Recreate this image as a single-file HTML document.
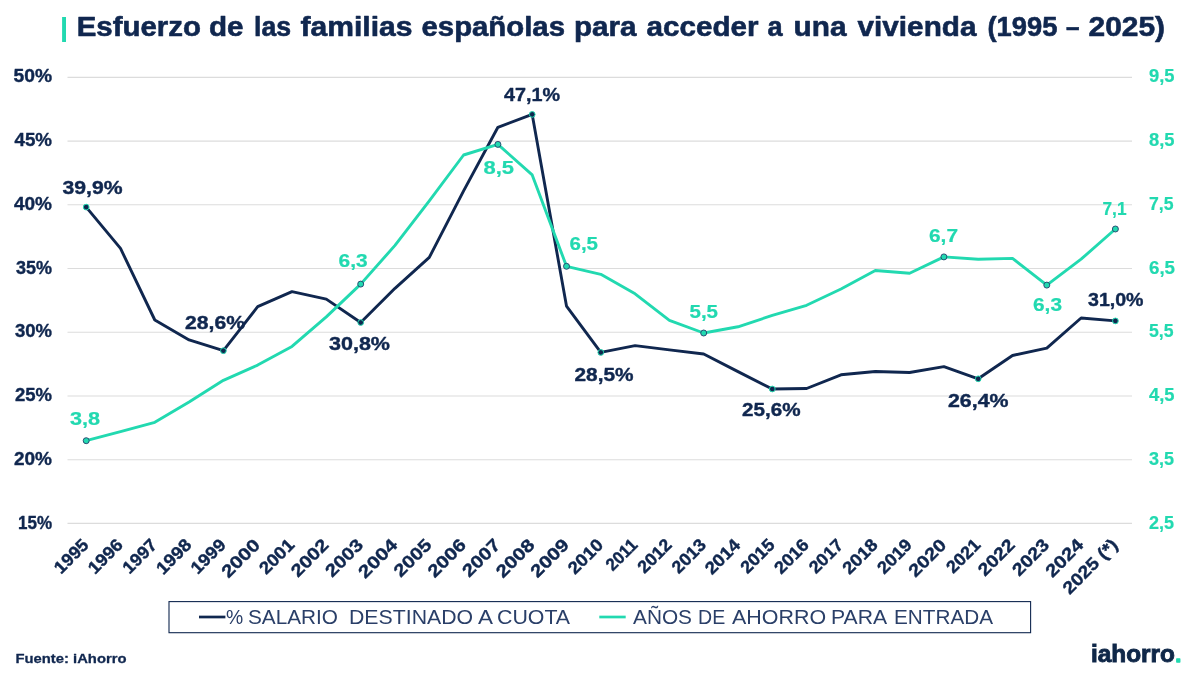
<!DOCTYPE html>
<html lang="es"><head><meta charset="utf-8"><title>Esfuerzo de las familias españolas para acceder a una vivienda</title>
<style>html,body{margin:0;padding:0;background:#fff;}body{width:1200px;height:675px;overflow:hidden;}svg{display:block;}text{font-family:"Liberation Sans", "DejaVu Sans", sans-serif;}</style></head><body>
<svg width="1200" height="675" viewBox="0 0 1200 675">
<rect width="1200" height="675" fill="#ffffff"/>
<rect x="62.1" y="17" width="3.9" height="25" fill="#22d9b0"/>
<text x="76.7" y="36.3" font-size="27.8" font-weight="bold" fill="#10274f" text-anchor="start" textLength="124.3" lengthAdjust="spacingAndGlyphs" stroke="#10274f" stroke-width="0.61" stroke-linejoin="round">Esfuerzo</text>
<text x="209.0" y="36.3" font-size="27.8" font-weight="bold" fill="#10274f" text-anchor="start" textLength="34.6" lengthAdjust="spacingAndGlyphs" stroke="#10274f" stroke-width="0.61" stroke-linejoin="round">de</text>
<text x="254.0" y="36.3" font-size="27.8" font-weight="bold" fill="#10274f" text-anchor="start" textLength="37.1" lengthAdjust="spacingAndGlyphs" stroke="#10274f" stroke-width="0.61" stroke-linejoin="round">las</text>
<text x="300.5" y="36.3" font-size="27.8" font-weight="bold" fill="#10274f" text-anchor="start" textLength="112.0" lengthAdjust="spacingAndGlyphs" stroke="#10274f" stroke-width="0.61" stroke-linejoin="round">familias</text>
<text x="421.5" y="36.3" font-size="27.8" font-weight="bold" fill="#10274f" text-anchor="start" textLength="143.5" lengthAdjust="spacingAndGlyphs" stroke="#10274f" stroke-width="0.61" stroke-linejoin="round">españolas</text>
<text x="574.0" y="36.3" font-size="27.8" font-weight="bold" fill="#10274f" text-anchor="start" textLength="62.6" lengthAdjust="spacingAndGlyphs" stroke="#10274f" stroke-width="0.61" stroke-linejoin="round">para</text>
<text x="646.5" y="36.3" font-size="27.8" font-weight="bold" fill="#10274f" text-anchor="start" textLength="112.0" lengthAdjust="spacingAndGlyphs" stroke="#10274f" stroke-width="0.61" stroke-linejoin="round">acceder</text>
<text x="767.5" y="36.3" font-size="27.8" font-weight="bold" fill="#10274f" text-anchor="start" textLength="15.1" lengthAdjust="spacingAndGlyphs" stroke="#10274f" stroke-width="0.61" stroke-linejoin="round">a</text>
<text x="793.5" y="36.3" font-size="27.8" font-weight="bold" fill="#10274f" text-anchor="start" textLength="53.0" lengthAdjust="spacingAndGlyphs" stroke="#10274f" stroke-width="0.61" stroke-linejoin="round">una</text>
<text x="857.5" y="36.3" font-size="27.8" font-weight="bold" fill="#10274f" text-anchor="start" textLength="119.0" lengthAdjust="spacingAndGlyphs" stroke="#10274f" stroke-width="0.61" stroke-linejoin="round">vivienda</text>
<text x="987.5" y="36.3" font-size="27.8" font-weight="bold" fill="#10274f" text-anchor="start" textLength="70.0" lengthAdjust="spacingAndGlyphs" stroke="#10274f" stroke-width="0.61" stroke-linejoin="round">(1995</text>
<text x="1066.0" y="36.3" font-size="27.8" font-weight="bold" fill="#10274f" text-anchor="start" textLength="13.5" lengthAdjust="spacingAndGlyphs" stroke="#10274f" stroke-width="0.61" stroke-linejoin="round">–</text>
<text x="1088.5" y="36.3" font-size="27.8" font-weight="bold" fill="#10274f" text-anchor="start" textLength="76.5" lengthAdjust="spacingAndGlyphs" stroke="#10274f" stroke-width="0.61" stroke-linejoin="round">2025)</text>
<line x1="67.5" x2="1132" y1="77.4" y2="77.4" stroke="#dcdcdc" stroke-width="1.1"/>
<line x1="67.5" x2="1132" y1="141.1" y2="141.1" stroke="#dcdcdc" stroke-width="1.1"/>
<line x1="67.5" x2="1132" y1="204.8" y2="204.8" stroke="#dcdcdc" stroke-width="1.1"/>
<line x1="67.5" x2="1132" y1="268.5" y2="268.5" stroke="#dcdcdc" stroke-width="1.1"/>
<line x1="67.5" x2="1132" y1="332.2" y2="332.2" stroke="#dcdcdc" stroke-width="1.1"/>
<line x1="67.5" x2="1132" y1="396.0" y2="396.0" stroke="#dcdcdc" stroke-width="1.1"/>
<line x1="67.5" x2="1132" y1="459.7" y2="459.7" stroke="#dcdcdc" stroke-width="1.1"/>
<line x1="67.5" x2="1132" y1="523.4" y2="523.4" stroke="#dcdcdc" stroke-width="1.1"/>
<text x="13.5" y="82.2" font-size="17.5" font-weight="bold" fill="#10274f" text-anchor="start" textLength="38.5" lengthAdjust="spacingAndGlyphs" stroke="#10274f" stroke-width="0.38" stroke-linejoin="round">50%</text>
<text x="14.5" y="145.9" font-size="17.5" font-weight="bold" fill="#10274f" text-anchor="start" textLength="37.5" lengthAdjust="spacingAndGlyphs" stroke="#10274f" stroke-width="0.38" stroke-linejoin="round">45%</text>
<text x="14.0" y="209.7" font-size="17.5" font-weight="bold" fill="#10274f" text-anchor="start" textLength="38.0" lengthAdjust="spacingAndGlyphs" stroke="#10274f" stroke-width="0.38" stroke-linejoin="round">40%</text>
<text x="16.0" y="273.5" font-size="17.5" font-weight="bold" fill="#10274f" text-anchor="start" textLength="36.0" lengthAdjust="spacingAndGlyphs" stroke="#10274f" stroke-width="0.38" stroke-linejoin="round">35%</text>
<text x="15.0" y="337.2" font-size="17.5" font-weight="bold" fill="#10274f" text-anchor="start" textLength="37.0" lengthAdjust="spacingAndGlyphs" stroke="#10274f" stroke-width="0.38" stroke-linejoin="round">30%</text>
<text x="15.0" y="401.0" font-size="17.5" font-weight="bold" fill="#10274f" text-anchor="start" textLength="37.0" lengthAdjust="spacingAndGlyphs" stroke="#10274f" stroke-width="0.38" stroke-linejoin="round">25%</text>
<text x="14.0" y="464.8" font-size="17.5" font-weight="bold" fill="#10274f" text-anchor="start" textLength="38.0" lengthAdjust="spacingAndGlyphs" stroke="#10274f" stroke-width="0.38" stroke-linejoin="round">20%</text>
<text x="18.0" y="528.6" font-size="17.5" font-weight="bold" fill="#10274f" text-anchor="start" textLength="34.0" lengthAdjust="spacingAndGlyphs" stroke="#10274f" stroke-width="0.38" stroke-linejoin="round">15%</text>
<text x="1149.0" y="82.1" font-size="17.5" font-weight="bold" fill="#22d9b0" text-anchor="start" textLength="25.5" lengthAdjust="spacingAndGlyphs" stroke="#22d9b0" stroke-width="0.21" stroke-linejoin="round">9,5</text>
<text x="1149.0" y="145.9" font-size="17.5" font-weight="bold" fill="#22d9b0" text-anchor="start" textLength="25.5" lengthAdjust="spacingAndGlyphs" stroke="#22d9b0" stroke-width="0.21" stroke-linejoin="round">8,5</text>
<text x="1149.0" y="209.7" font-size="17.5" font-weight="bold" fill="#22d9b0" text-anchor="start" textLength="24.5" lengthAdjust="spacingAndGlyphs" stroke="#22d9b0" stroke-width="0.21" stroke-linejoin="round">7,5</text>
<text x="1149.0" y="273.5" font-size="17.5" font-weight="bold" fill="#22d9b0" text-anchor="start" textLength="26.0" lengthAdjust="spacingAndGlyphs" stroke="#22d9b0" stroke-width="0.21" stroke-linejoin="round">6,5</text>
<text x="1149.0" y="337.3" font-size="17.5" font-weight="bold" fill="#22d9b0" text-anchor="start" textLength="24.5" lengthAdjust="spacingAndGlyphs" stroke="#22d9b0" stroke-width="0.21" stroke-linejoin="round">5,5</text>
<text x="1149.0" y="401.1" font-size="17.5" font-weight="bold" fill="#22d9b0" text-anchor="start" textLength="25.5" lengthAdjust="spacingAndGlyphs" stroke="#22d9b0" stroke-width="0.21" stroke-linejoin="round">4,5</text>
<text x="1149.0" y="464.9" font-size="17.5" font-weight="bold" fill="#22d9b0" text-anchor="start" textLength="25.0" lengthAdjust="spacingAndGlyphs" stroke="#22d9b0" stroke-width="0.21" stroke-linejoin="round">3,5</text>
<text x="1149.0" y="528.7" font-size="17.5" font-weight="bold" fill="#22d9b0" text-anchor="start" textLength="25.0" lengthAdjust="spacingAndGlyphs" stroke="#22d9b0" stroke-width="0.21" stroke-linejoin="round">2,5</text>
<polyline points="86.2,207.1 120.5,248.4 154.8,320.0 189.1,339.9 223.4,350.7 257.7,306.7 292.0,291.6 326.3,299.1 360.7,322.5 395.0,288.3 429.3,257.4 463.6,190.8 497.9,127.3 532.2,114.4 566.5,306.1 600.8,352.4 635.1,345.6 669.4,349.9 703.7,354.0 738.0,371.6 772.3,389.0 806.6,388.5 841.0,374.8 875.3,371.5 909.6,372.5 943.9,366.6 978.2,378.8 1012.5,355.5 1046.8,348.2 1081.1,318.0 1115.4,320.9" fill="none" stroke="#10274f" stroke-width="2.9" stroke-linejoin="round" stroke-linecap="round"/>
<polyline points="86.2,440.7 120.5,431.6 154.8,422.3 189.1,401.9 223.4,380.3 257.7,365.1 292.0,346.4 326.3,316.9 360.7,284.1 395.0,245.4 429.3,200.8 463.6,155.0 497.9,144.4 532.2,174.9 566.5,266.3 600.8,274.3 635.1,293.8 669.4,320.3 703.7,333.0 738.0,326.8 772.3,315.4 806.6,305.3 841.0,289.0 875.3,270.5 909.6,273.3 943.9,256.9 978.2,259.2 1012.5,258.4 1046.8,285.1 1081.1,259.2 1115.4,229.0" fill="none" stroke="#22d9b0" stroke-width="2.9" stroke-linejoin="round" stroke-linecap="round"/>
<circle cx="86.2" cy="207.1" r="2.85" fill="#10274f" stroke="#22d9b0" stroke-width="1.0"/>
<circle cx="223.4" cy="350.7" r="2.85" fill="#10274f" stroke="#22d9b0" stroke-width="1.0"/>
<circle cx="360.7" cy="322.5" r="2.85" fill="#10274f" stroke="#22d9b0" stroke-width="1.0"/>
<circle cx="532.2" cy="114.4" r="2.85" fill="#10274f" stroke="#22d9b0" stroke-width="1.0"/>
<circle cx="600.8" cy="352.4" r="2.85" fill="#10274f" stroke="#22d9b0" stroke-width="1.0"/>
<circle cx="772.3" cy="389.0" r="2.85" fill="#10274f" stroke="#22d9b0" stroke-width="1.0"/>
<circle cx="978.2" cy="378.8" r="2.85" fill="#10274f" stroke="#22d9b0" stroke-width="1.0"/>
<circle cx="1115.4" cy="320.9" r="2.85" fill="#10274f" stroke="#22d9b0" stroke-width="1.0"/>
<circle cx="86.2" cy="440.7" r="3.0" fill="#22d9b0" stroke="#24406b" stroke-width="0.9"/>
<circle cx="360.7" cy="284.1" r="3.0" fill="#22d9b0" stroke="#24406b" stroke-width="0.9"/>
<circle cx="497.9" cy="144.4" r="3.0" fill="#22d9b0" stroke="#24406b" stroke-width="0.9"/>
<circle cx="566.5" cy="266.3" r="3.0" fill="#22d9b0" stroke="#24406b" stroke-width="0.9"/>
<circle cx="703.7" cy="333.0" r="3.0" fill="#22d9b0" stroke="#24406b" stroke-width="0.9"/>
<circle cx="943.9" cy="256.9" r="3.0" fill="#22d9b0" stroke="#24406b" stroke-width="0.9"/>
<circle cx="1046.8" cy="285.1" r="3.0" fill="#22d9b0" stroke="#24406b" stroke-width="0.9"/>
<circle cx="1115.4" cy="229.0" r="3.0" fill="#22d9b0" stroke="#24406b" stroke-width="0.9"/>
<text x="62.5" y="193.5" font-size="19.0" font-weight="bold" fill="#10274f" text-anchor="start" textLength="60.0" lengthAdjust="spacingAndGlyphs" stroke="#10274f" stroke-width="0.42" stroke-linejoin="round">39,9%</text>
<text x="185.0" y="328.8" font-size="19.0" font-weight="bold" fill="#10274f" text-anchor="start" textLength="60.0" lengthAdjust="spacingAndGlyphs" stroke="#10274f" stroke-width="0.42" stroke-linejoin="round">28,6%</text>
<text x="329.0" y="349.9" font-size="19.0" font-weight="bold" fill="#10274f" text-anchor="start" textLength="61.0" lengthAdjust="spacingAndGlyphs" stroke="#10274f" stroke-width="0.42" stroke-linejoin="round">30,8%</text>
<text x="504.0" y="100.8" font-size="19.0" font-weight="bold" fill="#10274f" text-anchor="start" textLength="56.0" lengthAdjust="spacingAndGlyphs" stroke="#10274f" stroke-width="0.42" stroke-linejoin="round">47,1%</text>
<text x="574.5" y="381.2" font-size="19.0" font-weight="bold" fill="#10274f" text-anchor="start" textLength="59.0" lengthAdjust="spacingAndGlyphs" stroke="#10274f" stroke-width="0.42" stroke-linejoin="round">28,5%</text>
<text x="742.0" y="415.7" font-size="19.0" font-weight="bold" fill="#10274f" text-anchor="start" textLength="58.5" lengthAdjust="spacingAndGlyphs" stroke="#10274f" stroke-width="0.42" stroke-linejoin="round">25,6%</text>
<text x="948.0" y="407.3" font-size="19.0" font-weight="bold" fill="#10274f" text-anchor="start" textLength="60.5" lengthAdjust="spacingAndGlyphs" stroke="#10274f" stroke-width="0.42" stroke-linejoin="round">26,4%</text>
<text x="1088.0" y="306.0" font-size="19.0" font-weight="bold" fill="#10274f" text-anchor="start" textLength="55.5" lengthAdjust="spacingAndGlyphs" stroke="#10274f" stroke-width="0.42" stroke-linejoin="round">31,0%</text>
<text x="70.0" y="424.8" font-size="19.0" font-weight="bold" fill="#22d9b0" text-anchor="start" textLength="30.1" lengthAdjust="spacingAndGlyphs" stroke="#22d9b0" stroke-width="0.23" stroke-linejoin="round">3,8</text>
<text x="338.5" y="267.0" font-size="19.0" font-weight="bold" fill="#22d9b0" text-anchor="start" textLength="29.1" lengthAdjust="spacingAndGlyphs" stroke="#22d9b0" stroke-width="0.23" stroke-linejoin="round">6,3</text>
<text x="483.5" y="173.9" font-size="19.0" font-weight="bold" fill="#22d9b0" text-anchor="start" textLength="30.5" lengthAdjust="spacingAndGlyphs" stroke="#22d9b0" stroke-width="0.23" stroke-linejoin="round">8,5</text>
<text x="569.5" y="250.2" font-size="19.0" font-weight="bold" fill="#22d9b0" text-anchor="start" textLength="28.5" lengthAdjust="spacingAndGlyphs" stroke="#22d9b0" stroke-width="0.23" stroke-linejoin="round">6,5</text>
<text x="689.5" y="317.9" font-size="19.0" font-weight="bold" fill="#22d9b0" text-anchor="start" textLength="28.5" lengthAdjust="spacingAndGlyphs" stroke="#22d9b0" stroke-width="0.23" stroke-linejoin="round">5,5</text>
<text x="929.0" y="242.3" font-size="19.0" font-weight="bold" fill="#22d9b0" text-anchor="start" textLength="29.0" lengthAdjust="spacingAndGlyphs" stroke="#22d9b0" stroke-width="0.23" stroke-linejoin="round">6,7</text>
<text x="1033.0" y="311.0" font-size="19.0" font-weight="bold" fill="#22d9b0" text-anchor="start" textLength="29.0" lengthAdjust="spacingAndGlyphs" stroke="#22d9b0" stroke-width="0.23" stroke-linejoin="round">6,3</text>
<text x="1102.5" y="215.3" font-size="19.0" font-weight="bold" fill="#22d9b0" text-anchor="start" textLength="24.0" lengthAdjust="spacingAndGlyphs" stroke="#22d9b0" stroke-width="0.23" stroke-linejoin="round">7,1</text>
<text transform="translate(89.7,546.0) rotate(-45)" x="0" y="0" font-size="17.5" font-weight="bold" stroke="#13294f" stroke-width="0.4" fill="#10274f" text-anchor="end" textLength="40.5" lengthAdjust="spacingAndGlyphs">1995</text>
<text transform="translate(124.0,546.0) rotate(-45)" x="0" y="0" font-size="17.5" font-weight="bold" stroke="#13294f" stroke-width="0.4" fill="#10274f" text-anchor="end" textLength="41.1" lengthAdjust="spacingAndGlyphs">1996</text>
<text transform="translate(158.3,546.0) rotate(-45)" x="0" y="0" font-size="17.5" font-weight="bold" stroke="#13294f" stroke-width="0.4" fill="#10274f" text-anchor="end" textLength="40.6" lengthAdjust="spacingAndGlyphs">1997</text>
<text transform="translate(192.6,546.0) rotate(-45)" x="0" y="0" font-size="17.5" font-weight="bold" stroke="#13294f" stroke-width="0.4" fill="#10274f" text-anchor="end" textLength="41.6" lengthAdjust="spacingAndGlyphs">1998</text>
<text transform="translate(226.9,546.0) rotate(-45)" x="0" y="0" font-size="17.5" font-weight="bold" stroke="#13294f" stroke-width="0.4" fill="#10274f" text-anchor="end" textLength="41.1" lengthAdjust="spacingAndGlyphs">1999</text>
<text transform="translate(261.2,546.0) rotate(-45)" x="0" y="0" font-size="17.5" font-weight="bold" stroke="#13294f" stroke-width="0.4" fill="#10274f" text-anchor="end" textLength="46.4" lengthAdjust="spacingAndGlyphs">2000</text>
<text transform="translate(295.5,546.0) rotate(-45)" x="0" y="0" font-size="17.5" font-weight="bold" stroke="#13294f" stroke-width="0.4" fill="#10274f" text-anchor="end" textLength="41.4" lengthAdjust="spacingAndGlyphs">2001</text>
<text transform="translate(329.8,546.0) rotate(-45)" x="0" y="0" font-size="17.5" font-weight="bold" stroke="#13294f" stroke-width="0.4" fill="#10274f" text-anchor="end" textLength="45.1" lengthAdjust="spacingAndGlyphs">2002</text>
<text transform="translate(364.2,546.0) rotate(-45)" x="0" y="0" font-size="17.5" font-weight="bold" stroke="#13294f" stroke-width="0.4" fill="#10274f" text-anchor="end" textLength="45.2" lengthAdjust="spacingAndGlyphs">2003</text>
<text transform="translate(398.5,546.0) rotate(-45)" x="0" y="0" font-size="17.5" font-weight="bold" stroke="#13294f" stroke-width="0.4" fill="#10274f" text-anchor="end" textLength="46.9" lengthAdjust="spacingAndGlyphs">2004</text>
<text transform="translate(432.8,546.0) rotate(-45)" x="0" y="0" font-size="17.5" font-weight="bold" stroke="#13294f" stroke-width="0.4" fill="#10274f" text-anchor="end" textLength="45.2" lengthAdjust="spacingAndGlyphs">2005</text>
<text transform="translate(467.1,546.0) rotate(-45)" x="0" y="0" font-size="17.5" font-weight="bold" stroke="#13294f" stroke-width="0.4" fill="#10274f" text-anchor="end" textLength="45.9" lengthAdjust="spacingAndGlyphs">2006</text>
<text transform="translate(501.4,546.0) rotate(-45)" x="0" y="0" font-size="17.5" font-weight="bold" stroke="#13294f" stroke-width="0.4" fill="#10274f" text-anchor="end" textLength="45.4" lengthAdjust="spacingAndGlyphs">2007</text>
<text transform="translate(535.7,546.0) rotate(-45)" x="0" y="0" font-size="17.5" font-weight="bold" stroke="#13294f" stroke-width="0.4" fill="#10274f" text-anchor="end" textLength="46.4" lengthAdjust="spacingAndGlyphs">2008</text>
<text transform="translate(570.0,546.0) rotate(-45)" x="0" y="0" font-size="17.5" font-weight="bold" stroke="#13294f" stroke-width="0.4" fill="#10274f" text-anchor="end" textLength="45.9" lengthAdjust="spacingAndGlyphs">2009</text>
<text transform="translate(604.3,546.0) rotate(-45)" x="0" y="0" font-size="17.5" font-weight="bold" stroke="#13294f" stroke-width="0.4" fill="#10274f" text-anchor="end" textLength="41.4" lengthAdjust="spacingAndGlyphs">2010</text>
<text transform="translate(638.6,546.0) rotate(-45)" x="0" y="0" font-size="17.5" font-weight="bold" stroke="#13294f" stroke-width="0.4" fill="#10274f" text-anchor="end" textLength="36.5" lengthAdjust="spacingAndGlyphs">2011</text>
<text transform="translate(672.9,546.0) rotate(-45)" x="0" y="0" font-size="17.5" font-weight="bold" stroke="#13294f" stroke-width="0.4" fill="#10274f" text-anchor="end" textLength="40.1" lengthAdjust="spacingAndGlyphs">2012</text>
<text transform="translate(707.2,546.0) rotate(-45)" x="0" y="0" font-size="17.5" font-weight="bold" stroke="#13294f" stroke-width="0.4" fill="#10274f" text-anchor="end" textLength="40.2" lengthAdjust="spacingAndGlyphs">2013</text>
<text transform="translate(741.5,546.0) rotate(-45)" x="0" y="0" font-size="17.5" font-weight="bold" stroke="#13294f" stroke-width="0.4" fill="#10274f" text-anchor="end" textLength="41.9" lengthAdjust="spacingAndGlyphs">2014</text>
<text transform="translate(775.8,546.0) rotate(-45)" x="0" y="0" font-size="17.5" font-weight="bold" stroke="#13294f" stroke-width="0.4" fill="#10274f" text-anchor="end" textLength="40.2" lengthAdjust="spacingAndGlyphs">2015</text>
<text transform="translate(810.1,546.0) rotate(-45)" x="0" y="0" font-size="17.5" font-weight="bold" stroke="#13294f" stroke-width="0.4" fill="#10274f" text-anchor="end" textLength="40.9" lengthAdjust="spacingAndGlyphs">2016</text>
<text transform="translate(844.5,546.0) rotate(-45)" x="0" y="0" font-size="17.5" font-weight="bold" stroke="#13294f" stroke-width="0.4" fill="#10274f" text-anchor="end" textLength="40.4" lengthAdjust="spacingAndGlyphs">2017</text>
<text transform="translate(878.8,546.0) rotate(-45)" x="0" y="0" font-size="17.5" font-weight="bold" stroke="#13294f" stroke-width="0.4" fill="#10274f" text-anchor="end" textLength="41.4" lengthAdjust="spacingAndGlyphs">2018</text>
<text transform="translate(913.1,546.0) rotate(-45)" x="0" y="0" font-size="17.5" font-weight="bold" stroke="#13294f" stroke-width="0.4" fill="#10274f" text-anchor="end" textLength="40.9" lengthAdjust="spacingAndGlyphs">2019</text>
<text transform="translate(947.4,546.0) rotate(-45)" x="0" y="0" font-size="17.5" font-weight="bold" stroke="#13294f" stroke-width="0.4" fill="#10274f" text-anchor="end" textLength="45.1" lengthAdjust="spacingAndGlyphs">2020</text>
<text transform="translate(981.7,546.0) rotate(-45)" x="0" y="0" font-size="17.5" font-weight="bold" stroke="#13294f" stroke-width="0.4" fill="#10274f" text-anchor="end" textLength="40.1" lengthAdjust="spacingAndGlyphs">2021</text>
<text transform="translate(1016.0,546.0) rotate(-45)" x="0" y="0" font-size="17.5" font-weight="bold" stroke="#13294f" stroke-width="0.4" fill="#10274f" text-anchor="end" textLength="43.8" lengthAdjust="spacingAndGlyphs">2022</text>
<text transform="translate(1050.3,546.0) rotate(-45)" x="0" y="0" font-size="17.5" font-weight="bold" stroke="#13294f" stroke-width="0.4" fill="#10274f" text-anchor="end" textLength="43.8" lengthAdjust="spacingAndGlyphs">2023</text>
<text transform="translate(1084.6,546.0) rotate(-45)" x="0" y="0" font-size="17.5" font-weight="bold" stroke="#13294f" stroke-width="0.4" fill="#10274f" text-anchor="end" textLength="45.5" lengthAdjust="spacingAndGlyphs">2024</text>
<text transform="translate(1118.9,546.0) rotate(-45)" x="0" y="0" font-size="17.5" font-weight="bold" stroke="#13294f" stroke-width="0.4" fill="#10274f" text-anchor="end" textLength="69.5" lengthAdjust="spacingAndGlyphs">2025 (*)</text>
<rect x="169.0" y="601.6" width="861.6" height="31.1" fill="#ffffff" stroke="#10274f" stroke-width="1.1"/>
<line x1="199.0" x2="225.4" y1="617" y2="617" stroke="#10274f" stroke-width="2.7"/>
<text x="226.0" y="623.8" font-size="20.0" font-weight="normal" fill="#2a3f68" text-anchor="start" textLength="17.2" lengthAdjust="spacingAndGlyphs">%</text>
<text x="248.0" y="623.8" font-size="20.0" font-weight="normal" fill="#2a3f68" text-anchor="start" textLength="90.0" lengthAdjust="spacingAndGlyphs">SALARIO</text>
<text x="349.0" y="623.8" font-size="20.0" font-weight="normal" fill="#2a3f68" text-anchor="start" textLength="124.1" lengthAdjust="spacingAndGlyphs">DESTINADO</text>
<text x="478.0" y="623.8" font-size="20.0" font-weight="normal" fill="#2a3f68" text-anchor="start" textLength="15.0" lengthAdjust="spacingAndGlyphs">A</text>
<text x="497.0" y="623.8" font-size="20.0" font-weight="normal" fill="#2a3f68" text-anchor="start" textLength="73.1" lengthAdjust="spacingAndGlyphs">CUOTA</text>
<line x1="599.3" x2="625.7" y1="617" y2="617" stroke="#22d9b0" stroke-width="2.7"/>
<text x="633.0" y="623.8" font-size="20.0" font-weight="normal" fill="#2a3f68" text-anchor="start" textLength="59.0" lengthAdjust="spacingAndGlyphs">AÑOS</text>
<text x="698.0" y="623.8" font-size="20.0" font-weight="normal" fill="#2a3f68" text-anchor="start" textLength="27.2" lengthAdjust="spacingAndGlyphs">DE</text>
<text x="732.0" y="623.8" font-size="20.0" font-weight="normal" fill="#2a3f68" text-anchor="start" textLength="94.1" lengthAdjust="spacingAndGlyphs">AHORRO</text>
<text x="831.0" y="623.8" font-size="20.0" font-weight="normal" fill="#2a3f68" text-anchor="start" textLength="56.1" lengthAdjust="spacingAndGlyphs">PARA</text>
<text x="894.0" y="623.8" font-size="20.0" font-weight="normal" fill="#2a3f68" text-anchor="start" textLength="99.0" lengthAdjust="spacingAndGlyphs">ENTRADA</text>
<text x="15.5" y="663.3" font-size="13.3" font-weight="bold" fill="#10274f" text-anchor="start" textLength="111.0" lengthAdjust="spacingAndGlyphs" stroke="#10274f" stroke-width="0.29" stroke-linejoin="round">Fuente: iAhorro</text>
<text x="1091" y="661.5" font-size="24" font-weight="bold" fill="#0f2748" stroke="#0f2748" stroke-width="0.9" textLength="84" lengthAdjust="spacingAndGlyphs">iahorro</text>
<text x="1175.6" y="661.5" font-size="20" font-weight="bold" fill="#22d9b0" stroke="#22d9b0" stroke-width="1.5" stroke-linejoin="round">.</text>
</svg></body></html>
